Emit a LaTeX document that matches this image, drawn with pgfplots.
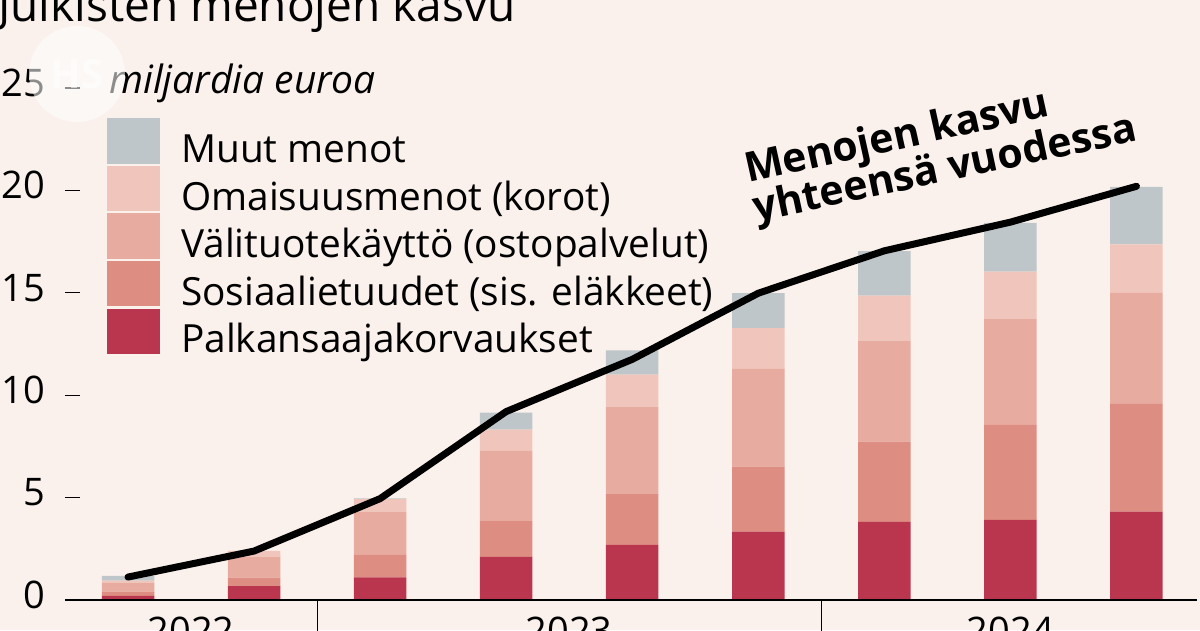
\documentclass[border=0pt]{standalone}
\usepackage{fontspec}
\setmainfont{Open Sans}
\usepackage{pgfplots}
\usepackage{pgfplotstable}
\pgfplotsset{compat=1.18}
\definecolor{bg}{HTML}{FAF1EC}
\definecolor{cmuut}{HTML}{BFC6C9}
\definecolor{comai}{HTML}{F0C6BC}
\definecolor{cvali}{HTML}{E8ABA0}
\definecolor{csos}{HTML}{DE8D82}
\definecolor{cpalk}{HTML}{B9364E}

\pgfplotstableread{
x palk sos vali omai muut tot
0 0.20 0.21 0.41 0.13 0.23 1.12
1 0.68 0.41 1.03 0.28 0.00 2.39
2 1.11 1.09 2.11 0.62 0.03 4.95
3 2.11 1.74 3.43 1.04 0.83 9.20
4 2.69 2.48 4.25 1.58 1.19 11.75
5 3.34 3.17 4.77 2.00 1.71 14.98
6 3.82 3.91 4.93 2.20 2.18 17.05
7 3.91 4.64 5.16 2.32 2.39 18.45
8 4.31 5.29 5.40 2.36 2.81 20.20
}\data

\pgfplotsset{base/.style={
  at={(65pt,30pt)}, anchor=south west, scale only axis,
  width=1132pt, height=512pt,
  xmin=-0.5, xmax=8.48, ymin=0, ymax=25,
  axis line style={draw=none}, clip=false}}

\begin{document}
\begin{tikzpicture}
\path[use as bounding box] (0,0) rectangle (1200pt,630pt);
\clip (0,0) rectangle (1200pt,630pt);
\fill[bg] (0,0) rectangle (1200pt,630pt);

\begin{axis}[base,
  ybar stacked, bar width=52.5pt,
  xtick=\empty,
  ytick={0,5,10,15,20,25},
  yticklabels={0,5,10,15,20,25},
  ytick pos=left,
  tick align=inside, major tick length=15pt,
  ytick style={line width=1.2pt, black},
  yticklabel style={font=\fontsize{38pt}{44pt}\selectfont, inner sep=0pt, anchor=east, xshift=-20pt, yshift=5pt},
  /pgf/number format/assume math mode=true]
\addplot[fill=cpalk, draw=none] table[x=x, y=palk]{\data};
\addplot[fill=csos, draw=none] table[x=x, y=sos]{\data};
\addplot[fill=cvali, draw=none] table[x=x, y=vali]{\data};
\addplot[fill=comai, draw=none] table[x=x, y=omai]{\data};
\addplot[fill=cmuut, draw=none] table[x=x, y=muut]{\data};
\end{axis}

\begin{axis}[base, xtick=\empty, ytick=\empty]
\draw[line width=2pt, black] (axis cs:-0.5,0) -- (axis cs:8.48,0);
\draw[line width=1.2pt, black] (axis cs:1.5,0) -- ++(0pt,-45pt);
\draw[line width=1.2pt, black] (axis cs:5.5,0) -- ++(0pt,-45pt);
\addplot[black, line width=7pt, line cap=round, line join=round, mark=none] table[x=x, y=tot]{\data};
\node[anchor=base, inner sep=0pt, font=\fontsize{38pt}{44pt}\selectfont] at ([yshift=-44pt]axis cs:0.5,0) {2022};
\node[anchor=base, inner sep=0pt, font=\fontsize{38pt}{44pt}\selectfont] at ([yshift=-44pt]axis cs:3.5,0) {2023};
\node[anchor=base, inner sep=0pt, font=\fontsize{38pt}{44pt}\selectfont] at ([yshift=-44pt]axis cs:7,0) {2024};
\end{axis}

% title (cut off at the top as in the reference)
\node[anchor=base west, inner sep=0pt, font=\fontsize{46pt}{52pt}\selectfont] at (-2pt,608pt) {Julkisten menojen kasvu};

% unit label
\node[anchor=base west, inner sep=0pt, font=\fontsize{39pt}{44pt}\selectfont\itshape] at (109pt,536pt) {miljardia euroa};

% legend
\foreach \c/\t [count=\i from 0] in {cmuut/Muut menot, comai/Omaisuusmenot (korot), cvali/Välituotekäyttö (ostopalvelut), csos/Sosiaalietuudet (sis. eläkkeet), cpalk/Palkansaajakorvaukset}{
  \pgfmathsetmacro{\yb}{466.4-47.6*\i}
  \fill[\c] (107.3pt,\yb pt) rectangle (160pt,\yb pt+45.3pt);
  \node[anchor=base west, inner sep=0pt, font=\fontsize{38.8pt}{44pt}\selectfont] at (181pt,\yb pt+1pt) {\t};
}

% annotation
\node[anchor=base west, inner sep=0pt, rotate=12.5, font=\fontsize{41pt}{46pt}\selectfont\bfseries] at (748pt,447pt) {Menojen kasvu};
\node[anchor=base west, inner sep=0pt, rotate=12, font=\fontsize{41pt}{46pt}\selectfont\bfseries] at (756pt,408pt) {yhteensä vuodessa};

% HS watermark
\fill[white, opacity=0.55] (77pt,556pt) circle (48pt);
\node[inner sep=0pt, font=\fontsize{40pt}{44pt}\selectfont\bfseries, text=white, opacity=0.6] at (77pt,556pt) {HS};
\end{tikzpicture}
\end{document}
